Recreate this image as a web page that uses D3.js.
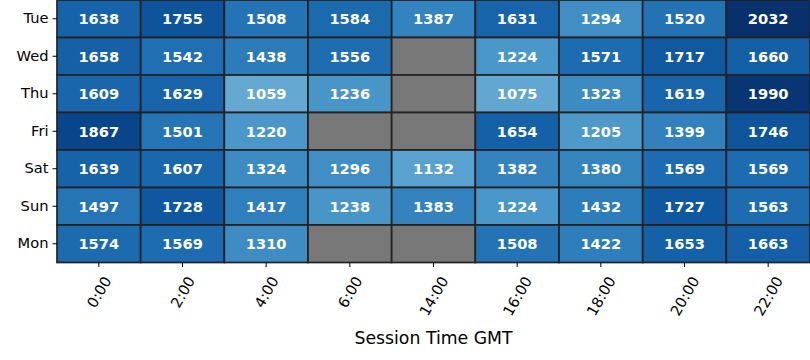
<!DOCTYPE html>
<html><head><meta charset="utf-8">
<script src="https://cdn.jsdelivr.net/npm/d3@7"></script>
<style>body{margin:0;background:#fff}svg{display:block;font-family:"DejaVu Sans",sans-serif}</style>
</head><body>
<svg id="c" width="810" height="360"></svg>
<script>
const days = ["Tue","Wed","Thu","Fri","Sat","Sun","Mon"];
const times = ["0:00","2:00","4:00","6:00","14:00","16:00","18:00","20:00","22:00"];
const valTue = [1638,1755,1508,1584,1387,1631,1294,1520,2032];
const valWed = [1658,1542,1438,1556,null,1224,1571,1717,1660];
const valThu = [1609,1629,1059,1236,null,1075,1323,1619,1990];
const valFri = [1867,1501,1220,null,null,1654,1205,1399,1746];
const valSat = [1639,1607,1324,1296,1132,1382,1380,1569,1569];
const valSun = [1497,1728,1417,1238,1383,1224,1432,1727,1563];
const valMon = [1574,1569,1310,null,null,1508,1422,1653,1663];
const rows = [valTue,valWed,valThu,valFri,valSat,valSun,valMon];
const xLabel = "Session Time GMT";

const FS = 14.67;
const svg = d3.select("#c");
const m = {l:57, t:0, r:810, b:262.5};
const x = d3.scaleBand().domain(times).range([m.l, m.r]);
const y = d3.scaleBand().domain(days).range([m.t, m.b]);
const vmax = d3.max(rows.flat());
const color = d3.scaleSequential(d3.interpolateBlues).domain([0, vmax]);

const cells = [];
rows.forEach((r,i)=>r.forEach((v,j)=>cells.push({d:days[i], t:times[j], v})));

const g = svg.append("g");
g.selectAll("rect").data(cells).join("rect")
  .attr("x", d=>x(d.t)).attr("y", d=>y(d.d))
  .attr("width", x.bandwidth()).attr("height", y.bandwidth())
  .attr("fill", d=>d.v==null ? "#787878" : color(d.v))
  .attr("stroke", "#222").attr("stroke-width", 1.7);

g.selectAll("text").data(cells.filter(d=>d.v!=null)).join("text")
  .attr("x", d=>x(d.t)+x.bandwidth()/2).attr("y", d=>y(d.d)+y.bandwidth()/2)
  .attr("text-anchor","middle").attr("dominant-baseline","central")
  .attr("fill","#fff").attr("font-weight","bold").attr("font-size",FS)
  .attr("font-family","DejaVu Sans")
  .text(d=>d.v);

const xa = svg.append("g").attr("transform",`translate(0,${m.b})`)
  .call(d3.axisBottom(x).tickSize(4.5).tickPadding(4));
xa.select(".domain").remove();
xa.selectAll("line").attr("stroke","#000");
xa.selectAll("text").each(function(){
  const t = d3.select(this)
    .attr("font-size",FS).attr("fill","#000").attr("font-family","DejaVu Sans")
    .attr("text-anchor","middle").attr("dy",null).attr("y",0).attr("dominant-baseline","central");
  const w = this.getComputedTextLength();
  const cy = 275 - m.b + (w*0.866 + 10.7*0.5)/2;
  t.attr("transform",`translate(0,${cy}) rotate(-60)`);
});

const ya = svg.append("g").attr("transform",`translate(${m.l},0)`)
  .call(d3.axisLeft(y).tickSize(4.5).tickPadding(4));
ya.select(".domain").remove();
ya.selectAll("text").attr("font-size",FS).attr("fill","#000").attr("font-family","DejaVu Sans");
ya.selectAll("line").attr("stroke","#000");

svg.append("text").attr("x",(m.l+m.r)/2).attr("y",344)
  .attr("text-anchor","middle").attr("font-size",17.3).attr("font-family","DejaVu Sans").text(xLabel);
</script>
</body></html>
